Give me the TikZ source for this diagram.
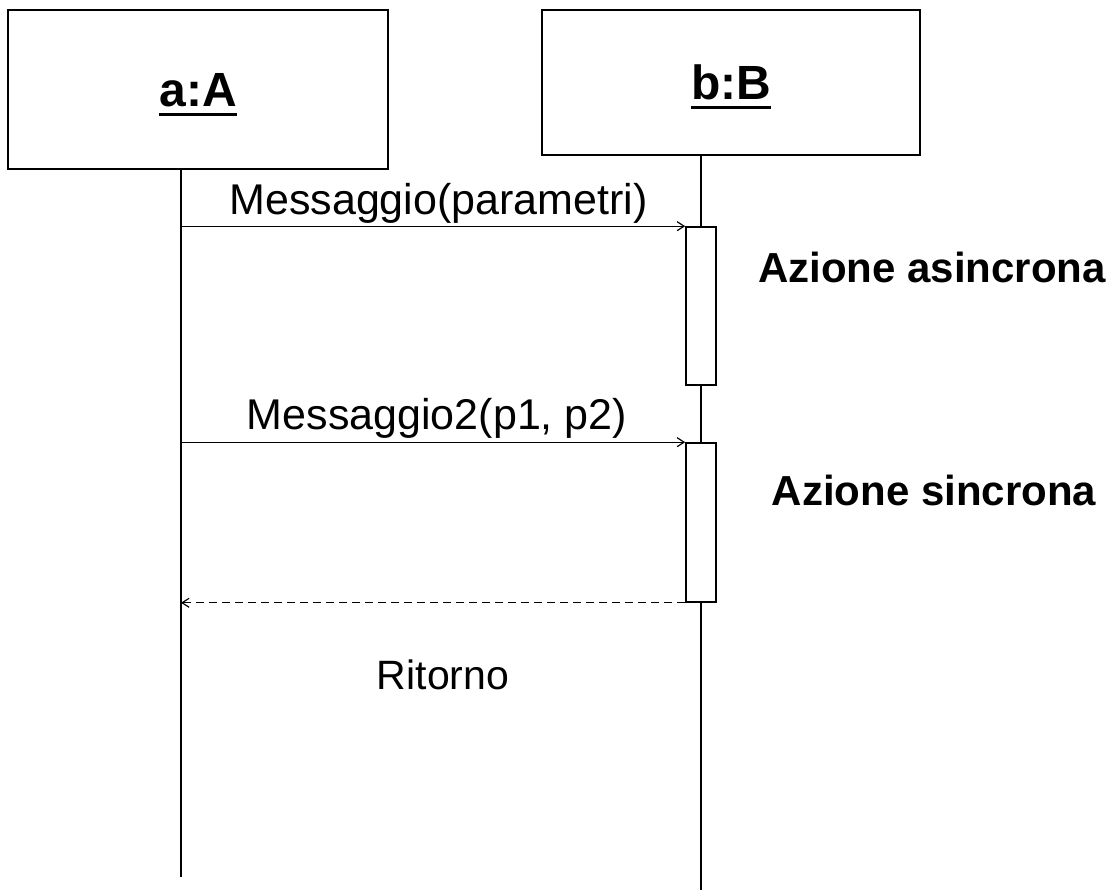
\documentclass[tikz,border=0pt]{standalone}
\usepackage{fontspec}
\setmainfont{Liberation Sans}
\usetikzlibrary{arrows.meta}
\newcommand\myul[1]{\setbox0\hbox{#1}\rlap{\usebox0}\rule[-9pt]{\wd0}{3.4pt}}
\begin{document}
\begin{tikzpicture}[x=1pt,y=-1pt,
  obj/.style={draw, line width=1.6pt, inner sep=0pt, text height=37pt, text depth=2pt, font=\fontsize{48}{56}\selectfont\bfseries},
  life/.style={line width=1.6pt},
  act/.style={draw, line width=1.6pt, fill=white, minimum width=30pt, inner sep=0pt},
  msg/.style={line width=1.2pt, -{Straight Barb[length=7pt,width=9pt]}},
  ret/.style={msg, dash pattern=on 8pt off 5pt},
  lbl/.style={inner sep=0pt, anchor=base, font=\fontsize{43}{50}\selectfont},
  note/.style={inner sep=0pt, anchor=base, font=\fontsize{42}{50}\selectfont\bfseries}]
\useasboundingbox (0,0) rectangle (1120,890);
\node[obj, minimum width=380pt, minimum height=159pt] (A) at (198,89.5) {\myul{a:A}};
\node[obj, minimum width=378pt, minimum height=145pt] (B) at (731,82.5) {\myul{b:B}};
\coordinate (aTop) at (181,169);
\coordinate (aBot) at (181,877);
\coordinate (bTop) at (701,155);
\coordinate (bBot) at (701,890);
\draw[life] (aTop) -- (aBot);
\draw[life] (bTop) -- (bBot);
\node[act, minimum height=158pt] (act1) at (701,306) {};
\node[act, minimum height=159pt] (act2) at (701,522.5) {};
\draw[msg] (aTop |- act1.north west) -- (act1.north west);
\draw[msg] (aTop |- act2.north west) -- (act2.north west);
\draw[ret] (act2.south west) -- (aTop |- act2.south west);
\node[lbl] (m1) at (438.5,215) {Messaggio(parametri)};
\node[lbl] (m2) at (437,430) {Messaggio2(p1, p2)};
\node[lbl, font=\fontsize{41}{48}\selectfont] (r) at (443,689) {Ritorno};
\node[note] (n1) at (932,283) {Azione asincrona};
\node[note] (n2) at (934,506) {Azione sincrona};
\end{tikzpicture}
\end{document}
